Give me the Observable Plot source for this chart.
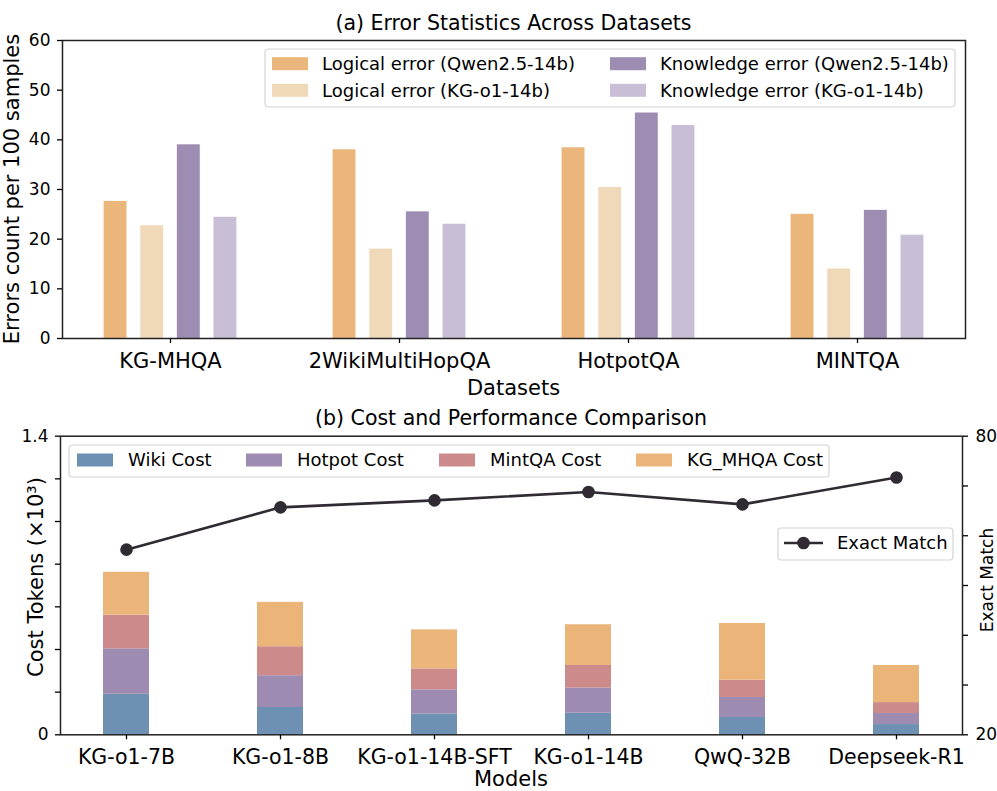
<!DOCTYPE html>
<html><head><meta charset="utf-8">
<script src="https://cdn.jsdelivr.net/npm/d3@7"></script>
<script src="https://cdn.jsdelivr.net/npm/@observablehq/plot@0.6"></script>
<style>
body{margin:0;background:#fff;}
#wrap{position:relative;width:997px;height:791px;font-family:"DejaVu Sans",sans-serif;overflow:hidden;}
#wrap > svg{position:absolute;left:0;}
</style></head><body><div id="wrap"></div>
<script>
// ---------- data: panel (a) ----------
const datasets = ["KG-MHQA", "2WikiMultiHopQA", "HotpotQA", "MINTQA"];
const errorSeries = ["Logical error (Qwen2.5-14b)", "Logical error (KG-o1-14b)", "Knowledge error (Qwen2.5-14b)", "Knowledge error (KG-o1-14b)"];
const logicalQwen = [27.6, 38.0, 38.4, 25.0];
const logicalKG = [22.7, 18.0, 30.4, 14.0];
const knowledgeQwen = [39.0, 25.5, 45.4, 25.8];
const knowledgeKG = [24.4, 23.0, 42.9, 20.8];
const errorColors = ["#ebb67b", "#f0d9b9", "#9e8db2", "#c8bed5"];
const errorTicks = [0, 10, 20, 30, 40, 50, 60];

// ---------- data: panel (b) ----------
const models = ["KG-o1-7B", "KG-o1-8B", "KG-o1-14B-SFT", "KG-o1-14B", "QwQ-32B", "Deepseek-R1"];
const costSeries = ["Wiki Cost", "Hotpot Cost", "MintQA Cost", "KG_MHQA Cost"];
const wikiCost = [0.190, 0.128, 0.098, 0.101, 0.081, 0.048];
const hotpotCost = [0.213, 0.149, 0.113, 0.118, 0.094, 0.052];
const mintCost = [0.158, 0.136, 0.098, 0.106, 0.081, 0.051];
const kgCost = [0.201, 0.208, 0.183, 0.191, 0.266, 0.174];
const costColors = ["#6e90b3", "#9e8bb2", "#cc8a8a", "#ebb57a"];
const exactMatch = [57.2, 65.7, 67.1, 68.8, 66.3, 71.7];
const costTicks = [0, 0.2, 0.4, 0.6, 0.8, 1.0, 1.2, 1.4];
const emTicks = [20, 30, 40, 50, 60, 70, 80];

const FONT = "DejaVu Sans";
const wrap = document.getElementById("wrap");

// ---------- panel (a) ----------
const errRows = [];
[logicalQwen, logicalKG, knowledgeQwen, knowledgeKG].forEach((arr, s) =>
  arr.forEach((v, i) => errRows.push({dataset: i, s, series: errorSeries[s], value: v})));
const barOffset = [-0.24, -0.08, 0.08, 0.24];
const halfW = 0.05;

const topPlot = Plot.plot({
  width: 997, height: 400,
  marginLeft: 62, marginRight: 32, marginTop: 40, marginBottom: 62,
  style: {fontFamily: FONT, color: "#000", background: "transparent"},
  x: {type: "linear", domain: [-0.4716, 3.4716]},
  y: {domain: [0, 60]},
  color: {domain: errorSeries, range: errorColors},
  marks: [
    Plot.rectY(errRows, {
      x1: d => d.dataset + barOffset[d.s] - halfW,
      x2: d => d.dataset + barOffset[d.s] + halfW,
      y1: 0, y2: "value", fill: "series"
    }),
    Plot.frame({stroke: "#222", strokeWidth: 1.5}),
    Plot.axisY(errorTicks, {tickSize: 5, tickPadding: 7, fontSize: 17, strokeWidth: 1.3, label: null}),
    Plot.axisX([0, 1, 2, 3], {tickSize: 5, tickPadding: 10, fontSize: 21, strokeWidth: 1.3,
      tickFormat: i => datasets[i], label: null})
  ]
});
topPlot.style.top = "0px";
wrap.appendChild(topPlot);

// ---------- panel (b): stacked cost bars ----------
const costRows = [];
[wikiCost, hotpotCost, mintCost, kgCost].forEach((arr, s) =>
  arr.forEach((v, i) => costRows.push({model: models[i], series: costSeries[s], value: v})));

const botPlot = Plot.plot({
  width: 997, height: 391,
  marginLeft: 60, marginRight: 35, marginTop: 35.7, marginBottom: 56.7,
  style: {fontFamily: FONT, color: "#000", background: "transparent"},
  x: {domain: models, paddingInner: 0.703, paddingOuter: 0.267},
  y: {domain: [0, 1.4]},
  color: {domain: costSeries, range: costColors},
  marks: [
    Plot.barY(costRows, {x: "model", y: "value", fill: "series", order: costSeries}),
    Plot.frame({stroke: "#222", strokeWidth: 1.5}),
    Plot.axisY(costTicks, {tickSize: 5, tickPadding: 7, fontSize: 17, strokeWidth: 1.3, label: null,
      tickFormat: d => d === 0 ? "0" : (Math.abs(d - 1.4) < 1e-9 ? "1.4" : "")}),
    Plot.axisX(models, {tickSize: 5, tickPadding: 10, fontSize: 20.5, strokeWidth: 1.3, label: null})
  ]
});
botPlot.style.top = "400px";
wrap.appendChild(botPlot);

// ---------- panel (b): exact match line (secondary axis) ----------
const emRows = models.map((m, i) => ({model: m, em: exactMatch[i]}));
const linePlot = Plot.plot({
  width: 997, height: 391,
  marginLeft: 60, marginRight: 35, marginTop: 35.7, marginBottom: 56.7,
  style: {fontFamily: FONT, color: "#000", background: "transparent"},
  x: {type: "point", domain: models, padding: 0.4155, axis: null},
  y: {domain: [20, 80]},
  marks: [
    Plot.line(emRows, {x: "model", y: "em", stroke: "#302a33", strokeWidth: 2.6}),
    Plot.dot(emRows, {x: "model", y: "em", r: 6.3, fill: "#302a33", stroke: "none"}),
    Plot.axisY(emTicks, {anchor: "right", tickSize: 5, tickPadding: 8, fontSize: 17, strokeWidth: 1.3, label: null,
      tickFormat: d => (d === 20 || d === 80) ? String(d) : ""})
  ]
});
linePlot.style.top = "400px";
wrap.appendChild(linePlot);

// ---------- titles, axis labels, legends ----------
const ov = d3.select(wrap).append("svg")
  .attr("width", 997).attr("height", 791)
  .style("top", "0px")
  .attr("font-family", FONT);

function txt(x, y, s, size, opts = {}) {
  const t = ov.append("text").attr("x", x).attr("y", y).attr("font-size", size)
    .attr("fill", "#000").attr("text-anchor", opts.anchor || "middle").text(s);
  if (opts.rotate) t.attr("transform", `rotate(-90 ${x} ${y})`);
  if (opts.dy) t.attr("dy", opts.dy);
  return t;
}
txt(513.5, 30, "(a) Error Statistics Across Datasets", 20.5);
txt(513.5, 395, "Datasets", 21);
txt(18.5, 189, "Errors count per 100 samples", 21, {rotate: true});
txt(511, 425, "(b) Cost and Performance Comparison", 20.5);
txt(511, 786, "Models", 21);
txt(42.5, 577, "Cost Tokens (×10³)", 21, {rotate: true});
txt(992.5, 580, "Exact Match", 17, {rotate: true});

function box(x1, y1, x2, y2) {
  ov.append("rect").attr("x", x1).attr("y", y1).attr("width", x2 - x1).attr("height", y2 - y1)
    .attr("rx", 3.5).attr("fill", "#fff").attr("fill-opacity", 0.8)
    .attr("stroke", "#d4d4d4").attr("stroke-width", 1.2);
}
// legend (a)
box(265, 49, 955, 107);
const legA = [
  {x: 272, y: 63.7}, {x: 272, y: 90.3}, {x: 610, y: 63.7}, {x: 610, y: 90.3}
];
errorSeries.forEach((s, i) => {
  const p = legA[i];
  ov.append("rect").attr("x", p.x).attr("y", p.y - 6.5).attr("width", 36).attr("height", 13).attr("fill", errorColors[i]);
  txt(p.x + 50, p.y, s, 18, {anchor: "start", dy: "0.35em"});
});
// legend (b) costs
box(69, 445, 829, 477);
const legBx = [77, 246, 439, 636];
costSeries.forEach((s, i) => {
  ov.append("rect").attr("x", legBx[i]).attr("y", 460 - 6.5).attr("width", 36).attr("height", 13).attr("fill", costColors[i]);
  txt(legBx[i] + 51, 460, s, 18, {anchor: "start", dy: "0.35em"});
});
// legend (b) exact match
box(778, 528, 953, 560);
ov.append("line").attr("x1", 784).attr("x2", 823).attr("y1", 543).attr("y2", 543)
  .attr("stroke", "#302a33").attr("stroke-width", 2.6);
ov.append("circle").attr("cx", 803.5).attr("cy", 543).attr("r", 6.3).attr("fill", "#302a33");
txt(837, 543, "Exact Match", 18, {anchor: "start", dy: "0.35em"});
</script></body></html>
